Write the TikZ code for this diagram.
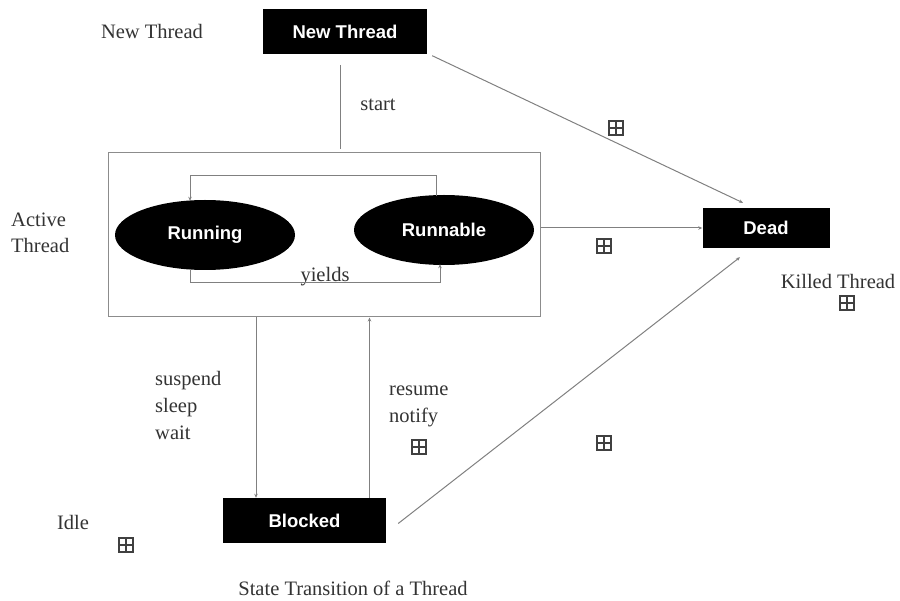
\documentclass[tikz,border=0pt]{standalone}
\usepackage{fontspec}
\setmainfont{Liberation Serif}
\newfontfamily\boxfont{Liberation Sans}
\usetikzlibrary{arrows.meta,shapes.geometric}
\tikzset{
  blk/.style={fill=black, text=white, font=\boxfont\bfseries\fontsize{18.5}{20}\selectfont, inner sep=0pt},
  oval/.style={ellipse, fill=black, text=white, font=\boxfont\bfseries\fontsize{18.5}{20}\selectfont, inner sep=0pt, minimum width=180pt, minimum height=70pt},
  lbl/.style={font=\fontsize{20.5}{26}\selectfont, text=black!80, inner sep=0pt},
  ln/.style={draw=black!50, line width=1pt},
  arr/.style={ln, -{Stealth[length=4pt,width=3.5pt]}},
  bp/.style={draw=black!75, line width=1.3pt, minimum size=14pt, inner sep=0pt,
    path picture={\draw[black!75, line width=1.3pt] (path picture bounding box.north) -- (path picture bounding box.south)
      (path picture bounding box.west) -- (path picture bounding box.east);}}
}
\begin{document}
\begin{tikzpicture}[x=1pt,y=-1pt]
\useasboundingbox (0,0) rectangle (900,601);
% boxes
\node[blk, minimum width=164pt, minimum height=45pt] (new) at (345,32) {New Thread};
\node[blk, minimum width=127pt, minimum height=40pt] (dead) at (766,228) {Dead};
\node[blk, minimum width=163pt, minimum height=45pt] (blocked) at (304.5,520.5) {Blocked};
\node[draw=black!45, line width=1pt, minimum width=432pt, minimum height=164pt, inner sep=0pt] (active) at (324,235) {};
\node[oval] (running) at (205,235) {Running};
\node[oval, minimum width=180pt] (runnable) at (444,230) {Runnable};
% labels
\node[lbl] (lnew) at (152,31) {New Thread};
\node[lbl] (lstart) at (378,105) {start};
\node[lbl, align=left, anchor=west] (lactive) at (11,233) {Active\\Thread};
\node[lbl] (lyields) at (325,277) {yields};
\node[lbl] (lkilled) at (838,281) {Killed Thread};
\node[lbl, align=left, anchor=north west] (lsusp) at (155,371) {suspend\\[1pt]sleep\\[1pt]wait};
\node[lbl, align=left, anchor=north west] (lres) at (389,386) {resume\\[1pt]notify};
\node[lbl] (lidle) at (73,522) {Idle};
\node[lbl] (lcap) at (353,588) {State Transition of a Thread};
% boxplus marks
\node[bp] (p1) at (616,128) {};
\node[bp] (p2) at (604,246) {};
\node[bp] (p3) at (847,303) {};
\node[bp] (p4) at (419,447) {};
\node[bp] (p5) at (604,443) {};
\node[bp] (p6) at (126,545) {};
% connectors
\coordinate (s1) at (340,65);
\draw[ln, shorten >=3pt] (s1) -- (s1 |- active.north);
\coordinate (t1) at (436,176);
\draw[arr] ([xshift=-8pt,yshift=-1pt]runnable.north) -- (t1) -| ([xshift=-15pt,yshift=-1pt]running.north);
\coordinate (b1) at (440,283);
\draw[arr] ([xshift=-15pt,yshift=1pt]running.south) |- (b1) -- ([xshift=-4pt,yshift=1pt]runnable.south);
\draw[arr] ([xshift=5pt,yshift=-1pt]new.south east) -- ([xshift=-23pt,yshift=5pt]dead.north);
\draw[arr] (active.east |- dead.west) -- (dead.west);
\draw[arr] ([xshift=12pt,yshift=-3pt]blocked.east) -- ([xshift=-26pt,yshift=-9pt]dead.south);
\draw[arr] ([xshift=-68pt]active.south) -- ([xshift=-68pt]active.south |- blocked.north);
\draw[arr] ([xshift=65pt]blocked.north) -- ([xshift=65pt]blocked.north |- active.south);
\end{tikzpicture}
\end{document}
